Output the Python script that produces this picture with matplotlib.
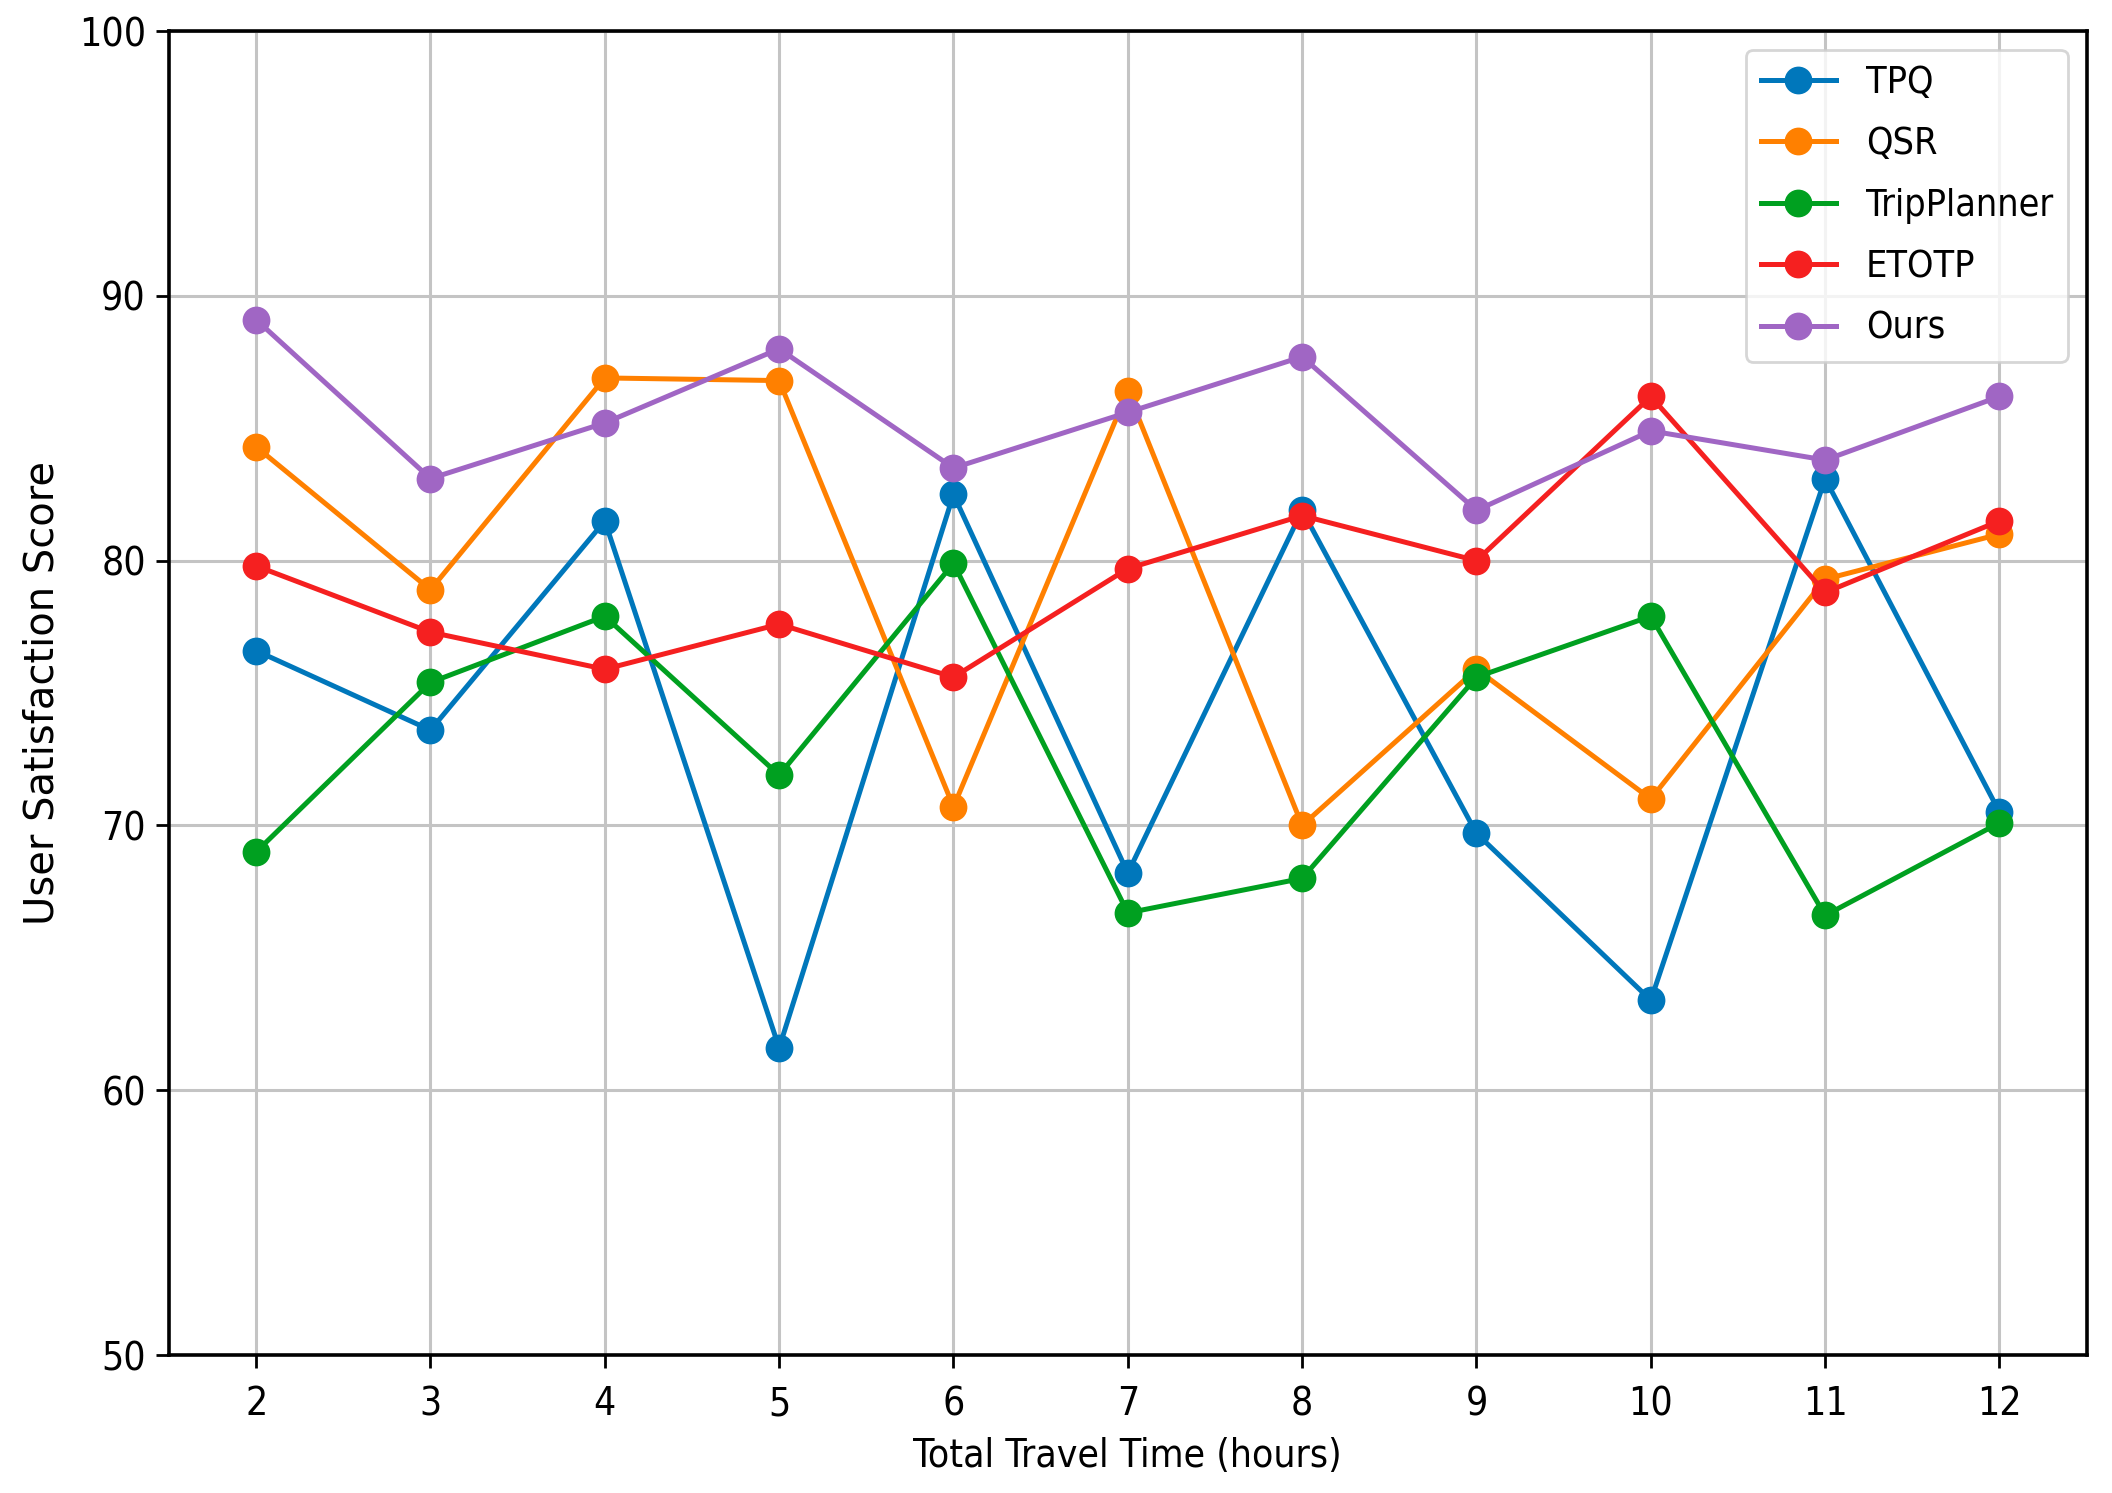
import matplotlib
matplotlib.use("Agg")
import matplotlib.pyplot as plt

# travel time (hours)
hours = [2, 3, 4, 5, 6, 7, 8, 9, 10, 11, 12]

# user satisfaction scores
tpq = [76.6, 73.6, 81.5, 61.6, 82.5, 68.2, 81.9, 69.7, 63.4, 83.1, 70.5]
qsr = [84.3, 78.9, 86.9, 86.8, 70.7, 86.4, 70.0, 75.9, 71.0, 79.3, 81.0]
tripplanner = [69.0, 75.4, 77.9, 71.9, 79.9, 66.7, 68.0, 75.6, 77.9, 66.6, 70.1]
etotp = [79.8, 77.3, 75.9, 77.6, 75.6, 79.7, 81.7, 80.0, 86.2, 78.8, 81.5]
ours = [89.1, 83.1, 85.2, 88.0, 83.5, 85.6, 87.7, 81.9, 84.9, 83.8, 86.2]

labels = ['TPQ', 'QSR', 'TripPlanner', 'ETOTP', 'Ours']
colors = ['#0077bb', '#ff8000', '#00a020', '#f52020', '#a066c4']

fig = plt.figure(figsize=(10.56, 7.465), dpi=200)
ax = fig.add_axes([0.080, 0.0924, 0.908, 0.8868])

for vals, lab, col in zip([tpq, qsr, tripplanner, etotp, ours], labels, colors):
    ax.plot(hours, vals, marker='o', markersize=9, linewidth=1.8, color=col, label=lab)

ax.set_ylim(50, 100)
ax.set_xlim(1.5, 12.5)
ax.set_xticks(hours)
ax.set_yticks([50, 60, 70, 80, 90, 100])
ax.tick_params(length=4.8, width=1.0)
ax.tick_params(axis='x', pad=6)
for t in ax.get_xticklabels() + ax.get_yticklabels():
    t.set_fontsize(14)
    t.set_fontstretch('condensed')
ax.grid(True, color='#c4c4c4', linewidth=1.1)

ax.set_xlabel('Total Travel Time (hours)', fontsize=14, fontstretch='condensed', labelpad=5)
ax.set_ylabel('User Satisfaction Score', fontsize=14.4, labelpad=6)

ax.legend(loc='upper right', prop={'size': 13.5, 'stretch': 'condensed'},
          labelspacing=0.68, handlelength=2.0, borderaxespad=0.5)

for s in ax.spines.values():
    s.set_linewidth(1.3)

plt.savefig('out.png', dpi=200)
